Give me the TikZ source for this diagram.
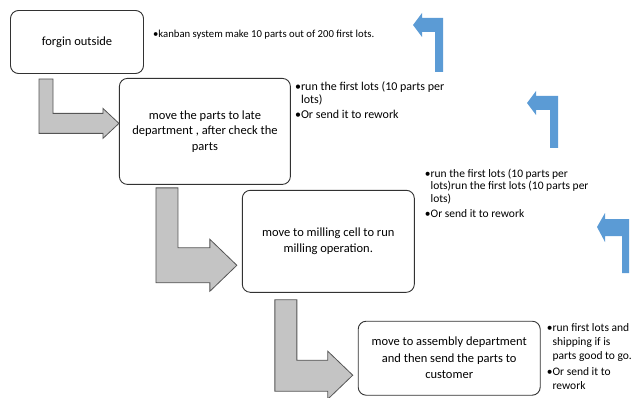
\documentclass[tikz,border=0pt]{standalone}
\usepackage{fontspec}
\setmainfont{Carlito}
\usetikzlibrary{positioning,calc}
\definecolor{ink}{RGB}{50,50,50}
\definecolor{grayfill}{RGB}{196,196,196}
\definecolor{grayline}{RGB}{85,85,85}
\definecolor{cBlue}{RGB}{91,155,213}
\tikzset{
  stepbox/.style={draw=ink,line width=0.9pt,rounded corners=8pt,fill=white,
    align=center,font=\fontsize{12.5}{15.5}\selectfont,inner sep=3pt},
  note/.style={align=left,font=\fontsize{11.5}{12.5}\selectfont,inner sep=0pt},
  bent/.style={draw=grayline,fill=grayfill,line width=0.8pt,line join=miter},
  turn/.style={fill=cBlue,draw=none},
}
\newcommand{\hang}{\hphantom{\textbullet}}

\begin{document}
\begin{tikzpicture}[x=1pt,y=-1pt]
  \useasboundingbox (0,0) rectangle (631,398);
  % process steps
  \node[stepbox,minimum width=133pt,minimum height=63pt] (forg) at (77,42) {forgin outside};
  \node[stepbox,minimum width=171pt,minimum height=106pt,below right=4pt and -25pt of forg] (late)
    {move the parts to late\\ department , after check the\\ parts};
  \node[stepbox,minimum width=172pt,minimum height=102pt,below right=5pt and -49pt of late] (mill)
    {move to milling cell  to run\\ milling operation.};
  \node[stepbox,font=\fontsize{12.5}{16.5}\selectfont,minimum width=182pt,minimum height=74pt,
    below right=28pt and -57pt of mill] (asm)
    {move to assembly department\\ and then send  the parts to\\ customer};
  % side notes
  \node[note,font=\fontsize{10.7}{12.5}\selectfont,right=9pt of forg,yshift=7pt] (n1)
    {\textbullet kanban system make 10 parts out of 200 first lots.};
  \node[note,font=\fontsize{12}{12.5}\selectfont,below right=4pt and 4pt of late.north east] (n2)
    {\textbullet run the first lots (10 parts per\\ \hang lots)\\[3pt]
     \textbullet Or send it to rework};
  \node[note,below right=-21pt and 10pt of mill.north east] (n3)
    {\textbullet run the first lots (10 parts per\\ \hang lots)run the first lots (10 parts per\\
     \hang lots)\\[3pt] \textbullet Or send it to rework};
  \node[note,font=\fontsize{11.5}{14}\selectfont,below right=3pt and 6pt of asm.north east] (n4)
    {\textbullet run first lots and\\ \hang shipping if is\\ \hang parts good to go.\\[2pt]
     \textbullet Or send it to\\ \hang rework};
  % bent block arrows
  \draw[bent] ($(forg.south west)+(29,5)$) coordinate (a0) -- ++(14,0)
    |- ($(late.west)+(-16,-18)$) -- ++(0,-5) -- ($(late.west)+(0,-8)$)
    -- ++(-16,15) -- ++(0,-5) -| (a0) -- cycle;
  \draw[bent] ($(late.south west)+(37,3)$) coordinate (b0) -- ++(22,0)
    |- ($(mill.west)+(-32,6.5)$) -- ++(0,-8.5) -- ($(mill.west)+(-5,24)$)
    -- ++(-27,26) -- ++(0,-8.5) -| (b0) -- cycle;
  \draw[bent] ($(mill.south west)+(33,7)$) coordinate (c0) -- ++(22,0)
    |- ($(asm.west)+(-30,2)$) -- ++(0,-9) -- ($(asm.west)+(-5,17)$)
    -- ++(-25,24) -- ++(0,-8) -| (c0) -- cycle;
  % blue return arrows
  \fill[turn] (413,25) -- (422,13) -- (422,18) -- (443,18) -- (443,72) -- (435,72)
    -- (435,32) -- (422,32) -- (422,37) -- cycle;
  \fill[turn] (527,103) -- (536,91) -- (536,96) -- (558,96) -- (558,148) -- (550,148)
    -- (550,110) -- (536,110) -- (536,115) -- cycle;
  \fill[turn] (597,227) -- (605,213) -- (605,219) -- (629,219) -- (629,273) -- (622,273)
    -- (622,236) -- (605,236) -- (605,242) -- cycle;
\end{tikzpicture}
\end{document}
